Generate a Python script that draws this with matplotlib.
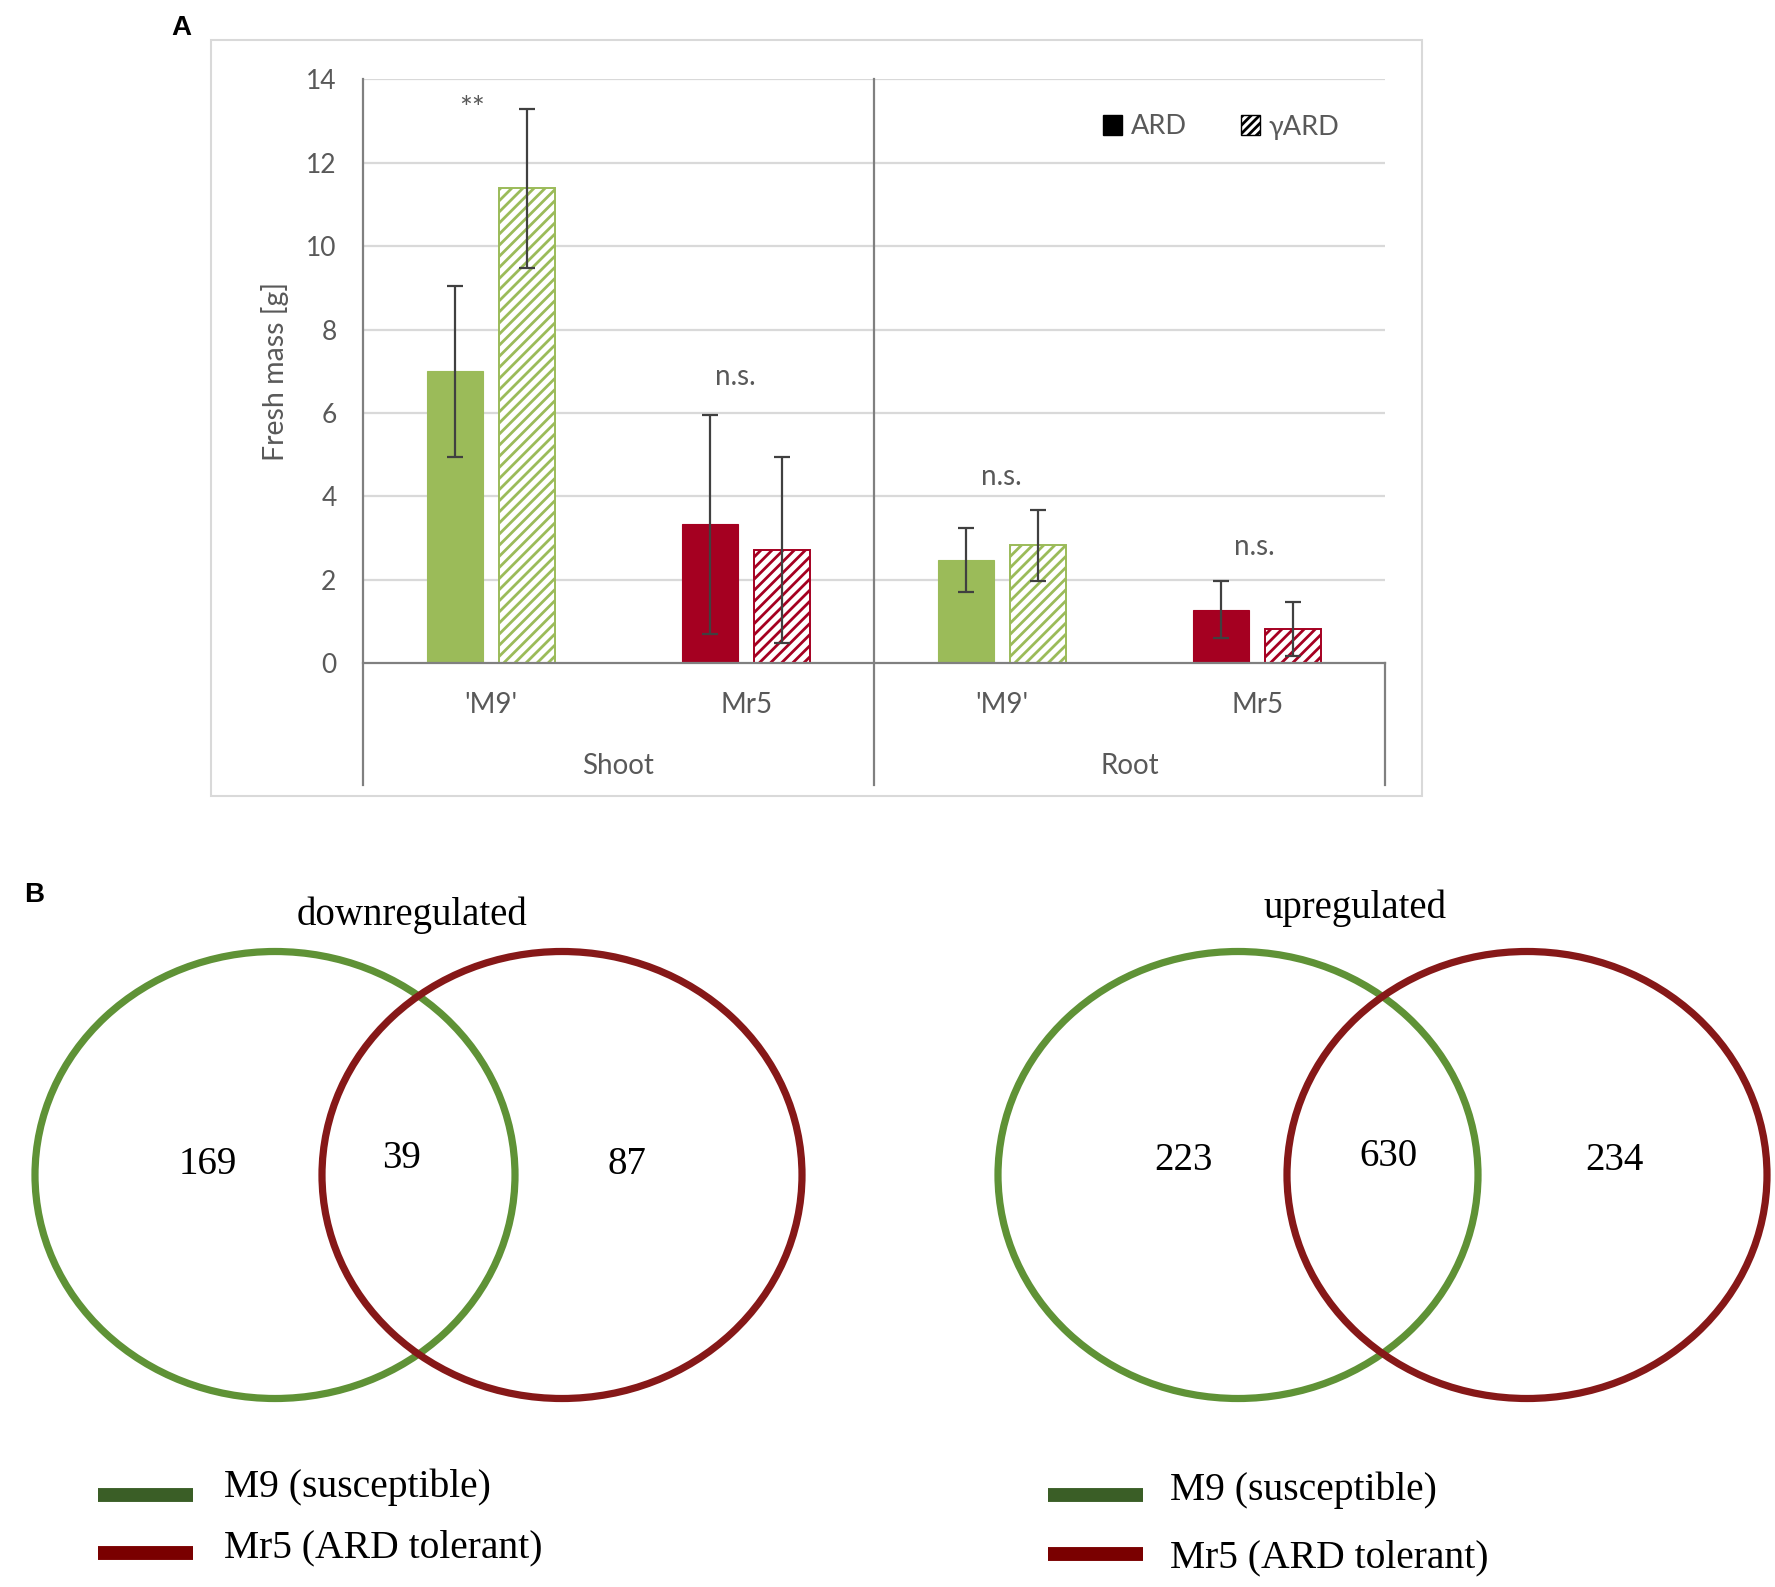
#!/usr/bin/env python3
# -*- coding: utf-8 -*-
"""Fresh mass bar chart (A) and DEG Venn diagrams (B)."""

import matplotlib

matplotlib.use("Agg")
import matplotlib.pyplot as plt
from matplotlib.patches import Ellipse, Patch, Rectangle

# ---- data: panel A ----
categories = ["'M9'", "Mr5", "'M9'", "Mr5"]
groups = ["Shoot", "Root"]
ard_mean = [7.0, 3.33, 2.48, 1.28]
ard_sd = [2.05, 2.63, 0.77, 0.69]
yard_mean = [11.39, 2.71, 2.82, 0.81]
yard_sd = [1.91, 2.24, 0.85, 0.65]
sig_labels = ["**", "n.s.", "n.s.", "n.s."]
sig_y = [13.3, 6.86, 4.46, 2.78]
yticks = [0, 2, 4, 6, 8, 10, 12, 14]

# ---- data: panel B ----
venn_titles = ["downregulated", "upregulated"]
down_counts = [169, 39, 87]
up_counts = [223, 630, 234]
venn_legend = ["M9 (susceptible)", "Mr5 (ARD tolerant)"]

GREEN = "#9bbb59"
RED = "#a50021"
VENN_GREEN = "#5f9236"
VENN_RED = "#861818"
LEG_GREEN = "#3a5e26"
LEG_RED = "#7a0000"
GRAY_TXT = "#595959"
AX_GRAY = "#808080"
GRID = "#d9d9d9"

W, H = 1775, 1587
plt.rcParams["font.family"] = ["Lato", "DejaVu Sans"]
plt.rcParams["hatch.linewidth"] = 2.0

fig = plt.figure(figsize=(W / 100, H / 100), dpi=100)
fig.patch.set_facecolor("white")

# overlay axes in pixel coordinates (for box, venn, panel letters)
ov = fig.add_axes([0, 0, 1, 1])
ov.set_xlim(0, W)
ov.set_ylim(H, 0)
ov.axis("off")
ov.set_zorder(0)

ov.add_patch(Rectangle((211, 40), 1211, 756, fill=False, edgecolor=GRID, lw=1.5))

# ---- panel A ----
ax_l, ax_r, ax_t, ax_b = 363, 1385, 79.5, 663
ax = fig.add_axes([ax_l / W, 1 - ax_b / H, (ax_r - ax_l) / W, (ax_b - ax_t) / H])
ax.set_zorder(1)
ax.patch.set_alpha(0)

x = list(range(len(categories)))
colors = [GREEN, RED, GREEN, RED]
bw, off = 0.22, 0.141

ax.bar([i - off for i in x], ard_mean, width=bw, color=colors, edgecolor=colors,
       linewidth=0.8, zorder=3)
ax.bar([i + off for i in x], yard_mean, width=bw, color="white", edgecolor=colors,
       hatch="///", linewidth=1.4, zorder=3)
ax.errorbar([i - off for i in x], ard_mean, yerr=ard_sd, fmt="none", ecolor="#404040",
            elinewidth=1.6, capsize=6, capthick=1.6, zorder=4)
ax.errorbar([i + off for i in x], yard_mean, yerr=yard_sd, fmt="none", ecolor="#404040",
            elinewidth=1.6, capsize=6, capthick=1.6, zorder=4)

sig_dx = [-0.074, -0.043, 0.0, -0.01]
sig_fs = [22, 20, 20, 20]
for i, (lab, yy) in enumerate(zip(sig_labels, sig_y)):
    ax.text(i + sig_dx[i], yy, lab, ha="center", va="center", fontsize=sig_fs[i],
            color=GRAY_TXT)

ax.set_xlim(-0.5, 3.5)
ax.set_ylim(0, 14)
ax.set_yticks(yticks)
ax.set_yticklabels([str(t) for t in yticks])
ax.set_xticks([])
ax.tick_params(axis="y", length=0, pad=19, labelsize=19, labelcolor=GRAY_TXT)
for t in yticks[1:]:
    ax.axhline(t, color=GRID, lw=1.6, zorder=1)
for side in ["top", "right", "left"]:
    ax.spines[side].set_visible(False)
ax.spines["bottom"].set_color(AX_GRAY)
ax.spines["bottom"].set_linewidth(1.6)
ax.spines["bottom"].set_zorder(5)

xt = ax.get_xaxis_transform()
y_low = (ax_b - 785) / (ax_b - ax_t)
for xv, y0, y1 in [(-0.5, y_low, 1), (1.5, y_low, 1), (3.5, y_low, 0)]:
    ax.plot([xv, xv], [y0, y1], color=AX_GRAY, lw=1.6, transform=xt, clip_on=False, zorder=5)

cat_y = (ax_b - 705) / (ax_b - ax_t)
grp_y = (ax_b - 766) / (ax_b - ax_t)
for i, c in enumerate(categories):
    ax.text(i, cat_y, c, transform=xt, ha="center", va="center", fontsize=20, color=GRAY_TXT)
for j, g in enumerate(groups):
    ax.text(0.5 + 2 * j, grp_y, g, transform=xt, ha="center", va="center", fontsize=20,
            color=GRAY_TXT)

ax.text(-0.086, 0.5, "Fresh mass [g]", transform=ax.transAxes, rotation=90,
        ha="center", va="center", fontsize=20.5, color=GRAY_TXT)

handles = [Patch(facecolor="black", edgecolor="black"),
           Patch(facecolor="white", edgecolor="black", hatch="////")]
leg = fig.legend(handles, ["ARD", "γARD"], loc="center", bbox_to_anchor=(1221 / W, 1 - 127 / H),
                 ncol=2, frameon=False, fontsize=19.5, handlelength=0.72, handleheight=0.72,
                 handletextpad=0.3, columnspacing=2.0)
for txt in leg.get_texts():
    txt.set_color(GRAY_TXT)

ov.text(181, 28, "A", ha="center", va="center", fontsize=20, fontweight="bold",
        family="Liberation Sans")

# ---- panel B ----
ov.text(34, 895, "B", ha="center", va="center", fontsize=20, fontweight="bold",
        family="Liberation Sans")

serif = ["Liberation Serif", "DejaVu Serif"]
venn_specs = [
    # title pos, green center, red center, count positions, legend x (line, text), legend y
    ((412, 915), (275, 1175), (562, 1175), [(208, 1164), (402, 1158), (627, 1164)],
     (98, 193, 224), (1495, 1553), (1487, 1548), down_counts),
    ((1355, 908), (1238, 1175), (1527, 1175), [(1183, 1161), (1388, 1156), (1614, 1161)],
     (1048, 1143, 1170), (1495, 1554), (1490, 1558), up_counts),
]
for k, (tpos, gc, rc, cpos, lx, ly, ty, counts) in enumerate(venn_specs):
    ov.text(tpos[0], tpos[1], venn_titles[k], ha="center", va="center", fontsize=28,
            family=serif)
    ov.add_patch(Ellipse(gc, 480, 447, fill=False, edgecolor=VENN_GREEN, lw=5.2))
    ov.add_patch(Ellipse(rc, 480, 447, fill=False, edgecolor=VENN_RED, lw=5.2))
    for (px, py), n in zip(cpos, counts):
        ov.text(px, py, str(n), ha="center", va="center", fontsize=28, family=serif)
    for col, yy, tyy, lab in zip([LEG_GREEN, LEG_RED], ly, ty, venn_legend):
        ov.plot([lx[0], lx[1]], [yy, yy], color=col, lw=10, solid_capstyle="butt")
        ov.text(lx[2], tyy, lab, ha="left", va="center", fontsize=28.5, family=serif)

fig.savefig("out.png", dpi=100, facecolor="white")
